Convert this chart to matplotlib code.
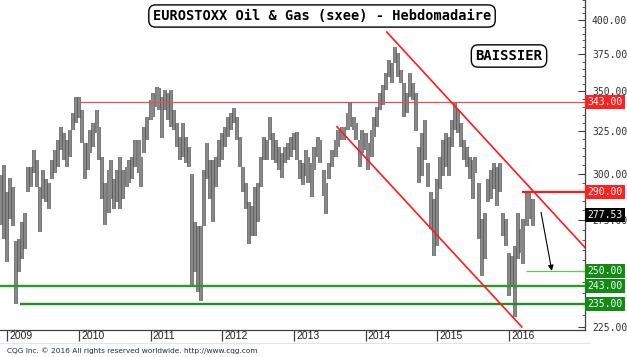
import numpy as np
import pandas as pd
import matplotlib
matplotlib.use("Agg")
import matplotlib.pyplot as plt
import matplotlib.dates as mdates
from matplotlib import transforms
from matplotlib.ticker import FixedLocator, NullFormatter, FuncFormatter

# ---------------- data (semi-monthly high / low) -------------
start_date = "2008-12-01"
highs = [299.4, 305.0, 289.6, 297.8, 292.8, 264.2, 265.2, 273.8, 278.9, 303.8,
         303.8, 313.8, 307.9, 292.8, 302.2, 296.7, 295.0, 307.9, 313.8, 319.7,
         327.5, 323.9, 319.7, 325.7, 336.2, 346.4, 346.4, 338.1, 317.9, 317.9,
         325.7, 329.9, 338.1, 327.5, 309.7, 295.0, 302.2, 307.9, 296.7, 302.2,
         309.7, 302.2, 303.8, 307.9, 309.7, 319.7, 319.7, 309.7, 327.5, 333.7,
         344.5, 349.0, 352.8, 352.2, 346.4, 350.9, 349.0, 350.9, 338.1, 329.9,
         321.5, 329.9, 321.5, 315.6, 300.0, 273.8, 271.7, 272.0, 302.2, 317.9,
         307.9, 307.9, 309.7, 319.7, 323.9, 327.5, 333.7, 336.2, 339.4, 333.7,
         321.5, 303.8, 295.0, 284.2, 282.1, 292.8, 295.0, 309.7, 321.5, 319.7,
         333.7, 323.9, 319.7, 315.6, 312.0, 315.6, 317.9, 321.5, 323.9, 324.5,
         307.9, 306.2, 313.8, 309.7, 306.2, 315.6, 321.5, 319.7, 302.2, 295.0,
         306.2, 313.8, 319.7, 325.7, 327.5, 327.5, 336.2, 343.2, 333.7, 329.9,
         319.7, 325.7, 323.9, 317.9, 325.7, 333.7, 340.0, 349.0, 354.3, 362.2,
         371.2, 369.1, 380.3, 376.1, 364.3, 355.6, 349.0, 362.2, 355.6, 349.0,
         315.6, 323.9, 331.8, 306.2, 289.6, 285.8, 296.7, 309.7, 319.7, 323.9,
         321.5, 331.8, 342.6, 338.1, 329.9, 319.7, 315.6, 309.7, 307.9, 309.7,
         295.0, 275.3, 278.9, 296.7, 302.2, 306.2, 303.8, 306.2, 278.9, 275.3,
         258.7, 256.9, 261.7, 278.9, 270.2, 275.3, 289.6, 290.1, 285.8]
lows = [272.7, 265.2, 254.1, 275.3, 271.7, 234.9, 249.4, 255.5, 260.3, 289.6,
        292.8, 300.5, 292.8, 268.7, 285.8, 284.2, 280.5, 296.7, 300.5, 303.8,
        313.8, 307.9, 303.8, 309.7, 325.7, 329.9, 333.1, 317.9, 296.7, 302.2,
        312.0, 315.6, 323.9, 307.9, 285.8, 272.7, 278.9, 285.8, 280.5, 284.2,
        280.5, 285.8, 292.8, 295.0, 296.7, 303.8, 300.5, 292.3, 312.0, 319.7,
        331.8, 333.7, 340.0, 338.1, 320.9, 338.1, 331.8, 327.5, 325.7, 315.6,
        307.9, 309.7, 306.2, 303.8, 243.0, 249.4, 240.3, 236.2, 272.0, 296.7,
        285.8, 273.8, 292.8, 303.8, 307.9, 315.6, 321.5, 325.7, 329.9, 319.7,
        303.8, 289.6, 280.5, 262.7, 266.7, 266.7, 274.0, 292.8, 307.9, 307.9,
        319.7, 307.9, 306.2, 302.2, 297.8, 306.2, 307.9, 309.7, 313.8, 307.9,
        296.7, 293.9, 298.4, 295.0, 286.9, 302.2, 309.7, 306.2, 287.4, 277.9,
        296.7, 303.8, 309.7, 315.6, 319.7, 319.7, 325.7, 327.5, 325.7, 319.7,
        303.8, 312.0, 313.8, 302.2, 309.7, 321.5, 327.5, 338.1, 341.3, 350.9,
        359.6, 355.6, 369.1, 359.6, 355.6, 333.7, 336.2, 346.4, 344.5, 325.0,
        295.0, 298.4, 307.9, 292.8, 270.2, 256.9, 261.7, 291.2, 298.4, 303.8,
        298.4, 315.6, 325.7, 323.9, 315.6, 307.9, 303.8, 296.7, 285.8, 300.5,
        265.2, 247.5, 255.5, 284.2, 285.8, 291.2, 282.1, 289.6, 266.7, 261.7,
        238.4, 243.0, 229.2, 255.5, 258.7, 253.1, 271.7, 275.3, 271.7]
last_close = 277.53

# horizontal levels: (value, start date, colour, width, label colour)
levels = [
    (343.0, "2010-01-08", "#f04a4a", 0.9, "#ff2020"),
    (290.0, "2016-03-07", "#ff1a1a", 1.6, "#ff2020"),
    (250.0, "2016-03-29", "#66c266", 0.9, "#138a13"),
    (243.0, "2008-11-25", "#2a9a2a", 1.7, "#138a13"),
    (235.0, "2009-03-07", "#1f8f1f", 1.7, "#138a13"),
]
# trend lines (date, price) pairs
trend_upper = [("2014-04-19", 391.1), ("2017-01-23", 261.2)]
trend_lower = [("2013-08-08", 327.5), ("2016-03-07", 225.1)]
arrow_pts = [("2016-06-13", 279.0), ("2016-08-07", 250.0)]

years = list(range(2009, 2017))
ytick_vals = [225, 250, 275, 300, 325, 350, 375, 400]
title = "EUROSTOXX Oil & Gas (sxee) - Hebdomadaire"
tag = "BAISSIER"
footer = "CQG Inc. \u00a9 2016 All rights reserved worldwide. http://www.cqg.com"

# ---------------- figure -------------
W, H = 627, 357
fig = plt.figure(figsize=(W / 100, H / 100), dpi=100)
fig.patch.set_facecolor("white")
ax = fig.add_axes([0, 27 / H, 585 / W, 330 / H])

dates = pd.date_range(start_date, periods=len(highs), freq="SMS")
ax.vlines(dates, lows, highs, color="#5a5a5a", lw=2.6, zorder=2)
ax.vlines(dates, lows, highs, color="#8a8a8a", lw=1.4, zorder=2)

xmin, xmax = pd.Timestamp("2008-11-25"), pd.Timestamp("2017-01-23")
ax.set_yscale("log")
ax.set_ylim(223.8, 415.3)
ax.set_xlim(xmin, xmax)

for val, d0, col, lw, _ in levels:
    ax.hlines(val, pd.Timestamp(d0), xmax, color=col, lw=lw, zorder=3)

for pts in (trend_upper, trend_lower):
    ax.plot([pd.Timestamp(p[0]) for p in pts], [p[1] for p in pts],
            color="#ff1a1a", lw=1.2, zorder=3)

ax.annotate("", xy=(pd.Timestamp(arrow_pts[1][0]), arrow_pts[1][1]),
            xytext=(pd.Timestamp(arrow_pts[0][0]), arrow_pts[0][1]),
            arrowprops=dict(arrowstyle="-|>", color="black", lw=0.8,
                            mutation_scale=8, shrinkA=0, shrinkB=0), zorder=4)

# spines
for s in ("left", "top"):
    ax.spines[s].set_visible(False)
for s in ("right", "bottom"):
    ax.spines[s].set_color("#404040")
    ax.spines[s].set_linewidth(0.9)

# y axis on right (250 label is hidden under its green box in the reference)
boxed = {lv[0] for lv in levels}
ax.yaxis.tick_right()
ax.yaxis.set_major_locator(FixedLocator(ytick_vals))
minor = [v for v in range(225, 416, 5) if v not in ytick_vals]
ax.yaxis.set_minor_locator(FixedLocator(minor))
ax.yaxis.set_major_formatter(
    FuncFormatter(lambda v, p: "" if v in boxed else f"{v:.2f}"))
ax.yaxis.set_minor_formatter(NullFormatter())
ax.tick_params(axis="y", which="major", direction="in", length=5, width=0.8,
               color="#404040", pad=5, labelsize=7, labelcolor="#303030")
ax.tick_params(axis="y", which="minor", direction="in", length=2.5, width=0.6,
               color="#404040")
for lab in ax.get_yticklabels():
    lab.set_family("DejaVu Sans Mono")

# x axis years
ax.set_xticks([pd.Timestamp(f"{y}-01-01") for y in years])
ax.set_xticklabels([])
ax.tick_params(axis="x", direction="out", length=8, width=0.9, color="#404040")
ax.xaxis.set_minor_locator(FixedLocator([]))
for y in years:
    ax.annotate(str(y), xy=(pd.Timestamp(f"{y}-01-01"), 0),
                xycoords=("data", "axes fraction"), xytext=(1.5, -4.3),
                textcoords="offset points", ha="left", va="center",
                fontsize=7.5, color="#202020", family="Liberation Sans")

# value boxes on right axis
blend = transforms.blended_transform_factory(ax.transAxes, ax.transData)
for val, _, _, _, lc in levels:
    ax.text(1.004, val, f"{val:.2f}", transform=blend, ha="left", va="center",
            fontsize=7, family="DejaVu Sans Mono", color="white", zorder=6,
            bbox=dict(boxstyle="square,pad=0.2", fc=lc, ec="none"), clip_on=False)
ax.text(1.004, last_close, f"{last_close:.2f}", transform=blend, ha="left",
        va="center", fontsize=7, family="DejaVu Sans Mono", color="white",
        zorder=6, bbox=dict(boxstyle="square,pad=0.2", fc="black", ec="none"),
        clip_on=False)

# title & tag
fig.text(322 / W, 1 - 16 / H, title, ha="center", va="center",
         family="DejaVu Sans Mono", fontweight="bold", fontsize=9.8,
         bbox=dict(boxstyle="round,pad=0.3,rounding_size=0.5", fc="white",
                   ec="black", lw=1.0))
fig.text(509 / W, 1 - 56 / H, tag, ha="center", va="center",
         family="DejaVu Sans Mono", fontweight="bold", fontsize=10,
         bbox=dict(boxstyle="round,pad=0.3,rounding_size=0.5", fc="white",
                   ec="black", lw=1.0))

# footer
fig.add_artist(plt.Line2D([0, 590 / W], [1 - 343 / H] * 2, color="#e4e4e4",
                          lw=0.8, transform=fig.transFigure))
fig.text(7 / W, 1 - 351 / H, footer, ha="left", va="center", fontsize=5.3,
         color="#1c2a4a", family="DejaVu Sans")

fig.savefig("out.png", dpi=100, facecolor="white")
